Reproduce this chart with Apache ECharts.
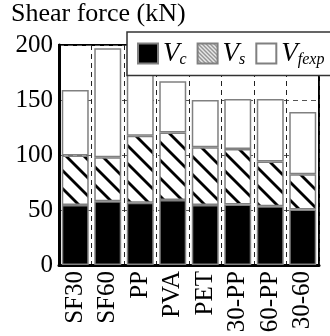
<!DOCTYPE html>
<html><head><meta charset="utf-8">
<script src="https://cdn.jsdelivr.net/npm/echarts@6/dist/echarts.min.js"></script>
<style>html,body{margin:0;padding:0;background:#fff}#c{width:330px;height:336px}</style>
</head><body><div id="c"></div>
<script>
const categories = ['SF30', 'SF60', 'PP', 'PVA', 'PET', '30-PP', '60-PP', '30-60'];
const Vc = [54.5, 58, 56.5, 59, 54.5, 55, 53.5, 50.5];
const Vs = [45, 40, 61, 61.5, 52.5, 50.5, 40.5, 32];
const Vfexp = [59.5, 99, 60.5, 46.5, 43, 45.5, 57, 56.5];
const seriesNames = ['Vc', 'Vs', 'Vfexp'];
const yMin = 0, yMax = 200, yStep = 50;

const FONT = '"Liberation Serif", "Times New Roman", serif';
function hatch(size, lw, color) {
  const c = document.createElement('canvas');
  c.width = size; c.height = size;
  const g = c.getContext('2d');
  g.fillStyle = '#fff'; g.fillRect(0, 0, size, size);
  g.strokeStyle = color; g.lineWidth = lw;
  for (let k = -1; k <= 1; k++) {
    g.beginPath(); g.moveTo(k * size - 1, -1); g.lineTo(k * size + size + 1, size + 1); g.stroke();
  }
  return c;
}
const barPattern = { image: hatch(18, 2.8, '#000'), repeat: 'repeat' };
const iconPattern = { image: hatch(4, 1.1, '#555'), repeat: 'repeat' };

const chart = echarts.init(document.getElementById('c'), null, { renderer: 'canvas' });
const border = { borderColor: '#808080', borderWidth: 1.5 };
chart.setOption({
  animation: false,
  title: {
    text: 'Shear force (kN)', left: 11, top: 1, padding: 0,
    textStyle: { fontFamily: FONT, fontSize: 26, fontWeight: 'normal', color: '#000' }
  },
  grid: { left: 59, right: 11, top: 45, bottom: 71, show: true, borderColor: '#000', borderWidth: 2 },
  legend: {
    left: 127, top: 32, width: 400, icon: 'rect',
    padding: [8, 10, 8, 10], itemWidth: 20, itemHeight: 20, itemGap: 10,
    backgroundColor: '#fff', borderColor: '#333', borderWidth: 1.5,
    data: [
      { name: 'Vc' },
      { name: 'Vs', itemStyle: { color: iconPattern } },
      { name: 'Vfexp' }
    ],
    formatter: n => '{v|V}{s|' + n.slice(1) + '}',
    textStyle: {
      rich: {
        v: { fontFamily: FONT, fontStyle: 'italic', fontSize: 27, color: '#000' },
        s: { fontFamily: FONT, fontStyle: 'italic', fontSize: 16, color: '#000', padding: [12, 0, 0, 0] }
      }
    }
  },
  xAxis: {
    type: 'category', data: categories,
    axisLine: { lineStyle: { color: '#000', width: 3 } },
    axisTick: { show: false },
    axisLabel: { interval: 0, rotate: 90, fontFamily: FONT, fontSize: 25, color: '#000', margin: 6 },
    splitLine: { show: true, interval: 0, lineStyle: { type: [5, 4], color: '#222', width: 1 } }
  },
  yAxis: {
    type: 'value', min: yMin, max: yMax, interval: yStep,
    axisLine: { show: true, lineStyle: { color: '#000', width: 3 } },
    axisTick: { show: false },
    axisLabel: { fontFamily: FONT, fontSize: 25, color: '#000', margin: 6 },
    splitLine: { show: true, lineStyle: { type: [5, 4], color: '#555', width: 1 } }
  },
  series: [
    { name: seriesNames[0], type: 'bar', stack: 't', barWidth: '83%', data: Vc, itemStyle: Object.assign({ color: '#000' }, border) },
    { name: seriesNames[1], type: 'bar', stack: 't', barWidth: '83%', data: Vs, itemStyle: Object.assign({ color: barPattern }, border) },
    { name: seriesNames[2], type: 'bar', stack: 't', barWidth: '83%', data: Vfexp, itemStyle: Object.assign({ color: '#fff' }, border) }
  ]
});
</script></body></html>
